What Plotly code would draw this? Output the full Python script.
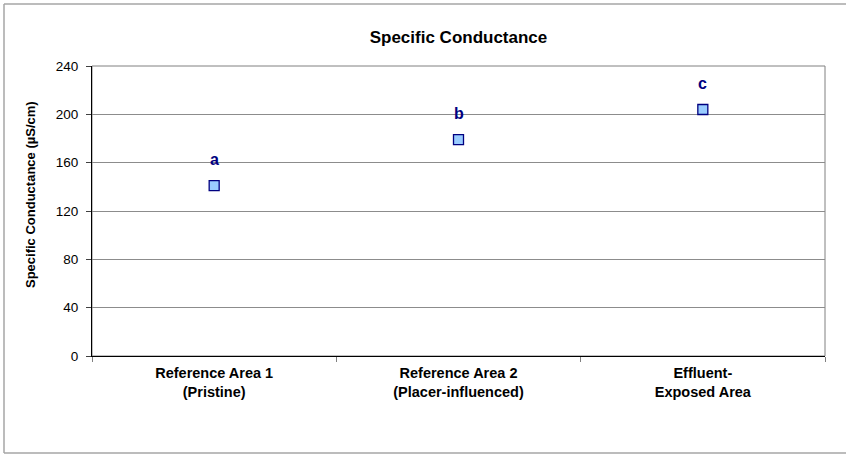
import plotly.graph_objects as go

# Site categories and mean specific conductance (µS/cm)
sites = ["Reference Area 1<br>(Pristine)",
         "Reference Area 2<br>(Placer-influenced)",
         "Effluent-<br>Exposed Area"]
conductance = [141, 179, 204]
groups = ["a", "b", "c"]

y_ticks = [0, 40, 80, 120, 160, 200, 240]
y_title = "Specific Conductance (µS/cm)"

W, H = 846, 459
L, R, T, B = 92, 21, 66, 103
pw, ph = W - L - R, H - T - B
FONT = "Liberation Sans, Arial"

fig = go.Figure()
fig.add_trace(go.Scatter(
    x=sites, y=conductance, mode="markers",
    marker=dict(symbol="square", size=10, color="#99CCFF",
                line=dict(color="#000080", width=1.3)),
    hoverinfo="x+y", showlegend=False,
))

# significance group letters above each point
for s, v, g in zip(sites, conductance, groups):
    fig.add_annotation(x=s, y=v, text=g, showarrow=False, yshift=26,
                       font=dict(family=FONT, size=16,
                                 color="#000080", weight="bold"))

# helpers: pixel position -> paper fraction
def px_x(p):
    return (p - L) / pw

def px_y(p):
    return (H - B - p) / ph

# y-axis title, placed slightly above the plot-area centre
fig.add_annotation(xref="paper", yref="paper", x=px_x(30), y=px_y(195),
                   text=f"<b>{y_title}</b>", textangle=-90, showarrow=False,
                   xanchor="center", yanchor="middle",
                   font=dict(family=FONT, size=13, color="black"))

# outer chart border (open on the right)
border = dict(color="#A6A6A6", width=1.5)
x_l, x_r, y_t, y_b = px_x(4), px_x(W), px_y(4), px_y(453)
for x0, y0, x1, y1 in [(x_l, y_t, x_r, y_t), (x_l, y_b, x_r, y_b),
                       (x_l, y_b, x_l, y_t)]:
    fig.add_shape(type="line", xref="paper", yref="paper",
                  x0=x0, y0=y0, x1=x1, y1=y1, line=border, layer="below")

# plot-area frame (right side)
fig.add_shape(type="rect", xref="paper", yref="paper",
              x0=0, x1=1, y0=0, y1=1,
              line=dict(color="#808080", width=1), layer="below")

fig.update_layout(
    width=W, height=H,
    margin=dict(l=L, r=R, t=T, b=B),
    paper_bgcolor="white", plot_bgcolor="white",
    font=dict(family=FONT, size=13, color="black"),
    title=dict(text="<b>Specific Conductance</b>", x=0.5, xref="paper",
               y=1 - 37 / H, yanchor="middle",
               font=dict(size=17, color="black")),
    xaxis=dict(
        type="category", range=[-0.5, 2.5],
        showline=True, linecolor="black", linewidth=1,
        ticks="outside", tickson="boundaries", ticklen=5, tickcolor="#808080",
        ticklabelstandoff=4,
        showgrid=False, tickfont=dict(size=14.5, weight="bold"),
    ),
    yaxis=dict(
        range=[0, 240], tickvals=y_ticks, ticktext=[str(t) for t in y_ticks],
        showline=True, linecolor="black", linewidth=1,
        ticks="outside", ticklen=5, tickcolor="#404040",
        ticklabelstandoff=5, tickfont=dict(size=13.5),
        showgrid=True, gridcolor="#8C8C8C", gridwidth=1, zeroline=False,
    ),
)

fig.write_html("out.html")
